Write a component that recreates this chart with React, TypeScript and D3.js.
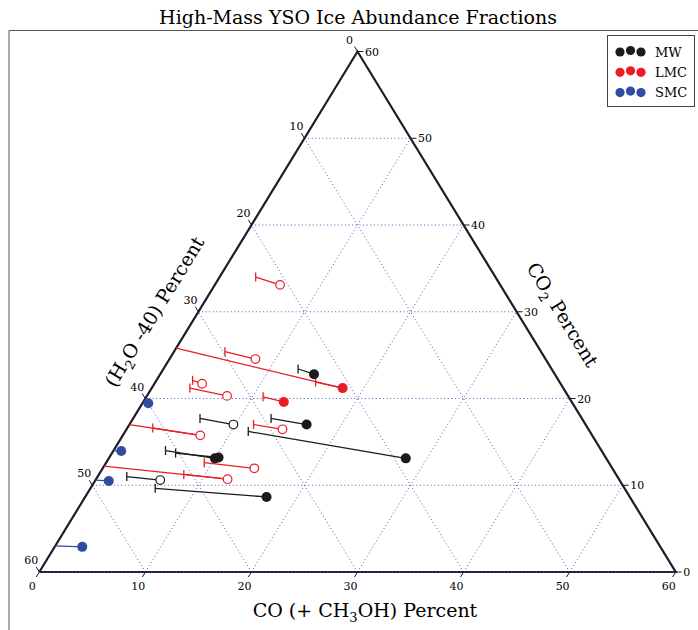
import * as d3 from "d3";
import {useMemo} from "react";

// ternary: CO (bottom), CO2 (right), H2O-40 (left); all sum to 60
const TOTAL = 60;
const ticks = [0, 10, 20, 30, 40, 50, 60];

// [CO, CO2, capCO, capCO2, filled, endCO, endCO2]
const mwPoints = [
    [14.5, 22.8, 12.7, 23.4, 1],
    [16.7, 17.0, 13.0, 17.7, 1],
    [28.0, 13.1, 11.6, 16.2, 1],
    [17.1, 8.65, 6.1, 9.65, 1],
    [10.0, 13.1, 4.9, 14.0, 1],
    [10.3, 13.2, 6.0, 13.7, 1],
    [9.8, 17.0, 6.3, 17.7, 0],
    [6.1, 10.6, 2.75, 11.0, 0],
];

const lmcPoints = [
    [18.0, 21.2, 15.1, 21.9, 1, 0, 25.8],
    [13.25, 19.6, 11.0, 20.2, 1],
    [6.15, 33.1, 3.4, 34.0, 0],
    [8.1, 24.55, 4.8, 25.4, 0],
    [4.5, 21.7, 3.4, 22.1, 0],
    [7.55, 20.3, 3.6, 21.2, 0],
    [14.7, 16.45, 11.7, 17.0, 0],
    [7.3, 15.75, 2.4, 16.6, 0, 0, 17.0],
    [14.3, 11.95, 9.25, 12.6, 0],
    [12.4, 10.7, 8.0, 11.25, 0, 0, 12.2],
];

// [CO, CO2, endCO, endCO2]
const smcPoints = [
    [0.55, 19.45, 0, 19.5],
    [0.75, 13.95, 0, 14.0],
    [1.3, 10.5, 0, 10.6],
    [2.6, 2.9, 0, 3.0],
];

const legendItems = [
    {label: "MW", color: "#1b1b1b"},
    {label: "LMC", color: "#ec1c24"},
    {label: "SMC", color: "#2f4da3"},
];

const FONT = "'DejaVu Serif', serif";
const AXIS = "#1c1c2a";
const GRID = "#4a5cc4";

export default function App() {
    const sx = useMemo(() => d3.scaleLinear().domain([0, TOTAL]).range([39.3, 675.7]), []);
    const sy = useMemo(() => d3.scaleLinear().domain([0, TOTAL]).range([572, 51.5]), []);
    const proj = (co, co2) => [sx(co + co2 / 2), sy(co2)];

    const line = d3.line();
    const tri = line([proj(0, 0), proj(TOTAL, 0), proj(0, TOTAL), proj(0, 0)]);

    const inner = ticks.slice(1, -1);
    const gridLines = [];
    inner.forEach(v => {
        gridLines.push([proj(0, v), proj(TOTAL - v, v)]);      // CO2 const
        gridLines.push([proj(v, 0), proj(v, TOTAL - v)]);      // CO const
        gridLines.push([proj(TOTAL - v, 0), proj(0, TOTAL - v)]); // H2O const
    });

    const drawSeries = (pts, color, key) => pts.map((p, i) => {
        const [co, co2, cco, cco2, filled, eco, eco2] = p;
        const m = proj(co, co2);
        const c = proj(cco, cco2);
        const els = [];
        if (eco !== undefined) {
            const e = proj(eco, eco2);
            els.push(<path key="e" d={line([m, e])} stroke={color} strokeWidth={1.3} fill="none"/>);
        }
        els.push(<path key="l" d={line([m, c])} stroke={color} strokeWidth={1.3} fill="none"/>);
        els.push(<path key="c" d={line([[c[0], c[1] - 4.5], [c[0], c[1] + 4.5]])} stroke={color} strokeWidth={1.3}/>);
        els.push(filled
            ? <circle key="m" cx={m[0]} cy={m[1]} r={5} fill={color}/>
            : <circle key="m" cx={m[0]} cy={m[1]} r={4.3} fill="white" stroke={color} strokeWidth={1.2}/>);
        return <g key={key + i}>{els}</g>;
    });

    const smcColor = legendItems[2].color;

    return (
        <svg width={698} height={630} style={{position: "absolute", left: 0, top: 0, background: "white"}}
             fontFamily={FONT}>
            <text x={358} y={24} textAnchor="middle" fontSize={19}>High-Mass YSO Ice Abundance Fractions</text>
            <path d="M9,640 L9,30.5 L710,30.5" fill="none" stroke="#555" strokeWidth={1}/>

            {gridLines.map((g, i) => (
                <path key={"g" + i} d={line(g)} stroke={GRID} strokeWidth={1} strokeDasharray="1 2.6" fill="none"/>
            ))}

            <path d={tri} fill="none" stroke={AXIS} strokeWidth={2.2} strokeLinejoin="miter"/>
            <path d={line([proj(0, 0), proj(TOTAL, 0)])} stroke={GRID} strokeWidth={1} strokeDasharray="1 2.6"/>

            {/* bottom: CO */}
            {ticks.map(v => {
                const [x, y] = proj(v, 0);
                return <g key={"b" + v}>
                    <path d={line([[x, y], [x - 3, y + 5]])} stroke={AXIS} strokeWidth={1}/>
                    <text x={x - 7} y={y + 18} textAnchor="middle" fontSize={11}>{v}</text>
                </g>;
            })}
            {/* left: H2O - 40 */}
            {ticks.map(v => {
                const [x, y] = proj(0, TOTAL - v);
                return <g key={"l" + v}>
                    <path d={line([[x, y], [x - 3, y - 5]])} stroke={AXIS} strokeWidth={1}/>
                    <text x={x - 8} y={y - 8} textAnchor="middle" fontSize={11}>{v}</text>
                </g>;
            })}
            {/* right: CO2 */}
            {ticks.map(v => {
                const [x, y] = proj(TOTAL - v, v);
                return <g key={"r" + v}>
                    <path d={line([[x, y], [x + 6, y]])} stroke={AXIS} strokeWidth={1}/>
                    <text x={x + 7.5} y={y + 4} fontSize={11}>{v}</text>
                </g>;
            })}

            {/* SMC */}
            {smcPoints.map((p, i) => {
                const m = proj(p[0], p[1]);
                const e = proj(p[2], p[3]);
                return <g key={"s" + i}>
                    <path d={line([m, e])} stroke={smcColor} strokeWidth={1.3}/>
                    <circle cx={m[0]} cy={m[1]} r={5} fill={smcColor}/>
                </g>;
            })}
            {drawSeries(lmcPoints, legendItems[1].color, "lmc")}
            {drawSeries(mwPoints, legendItems[0].color, "mw")}

            {/* axis titles */}
            <text x={365} y={617} textAnchor="middle" fontSize={19}>
                CO (+ CH<tspan fontSize={13} dy={5}>3</tspan><tspan dy={-5}>OH) Percent</tspan>
            </text>
            <text transform="translate(155,312) rotate(-58.5)" textAnchor="middle" fontSize={19} dy={6}>
                (H<tspan fontSize={13} dy={5}>2</tspan><tspan dy={-5}>O -40) Percent</tspan>
            </text>
            <text transform="translate(562,315) rotate(58.5)" textAnchor="middle" fontSize={19} dy={6}>
                CO<tspan fontSize={13} dy={5}>2</tspan><tspan dy={-5}> Percent</tspan>
            </text>

            {/* legend */}
            <rect x={607.5} y={35.5} width={87} height={71} fill="white" stroke="#444" strokeWidth={1}/>
            {legendItems.map((it, i) => {
                const y = 52 + i * 20.3;
                return <g key={"lg" + i}>
                    <circle cx={620} cy={y} r={4.6} fill={it.color}/>
                    <circle cx={630.5} cy={y - 1.5} r={4.6} fill={it.color}/>
                    <circle cx={641} cy={y} r={4.6} fill={it.color}/>
                    <text x={655} y={y + 4.5} fontSize={13}>{it.label}</text>
                </g>;
            })}
        </svg>
    );
}
